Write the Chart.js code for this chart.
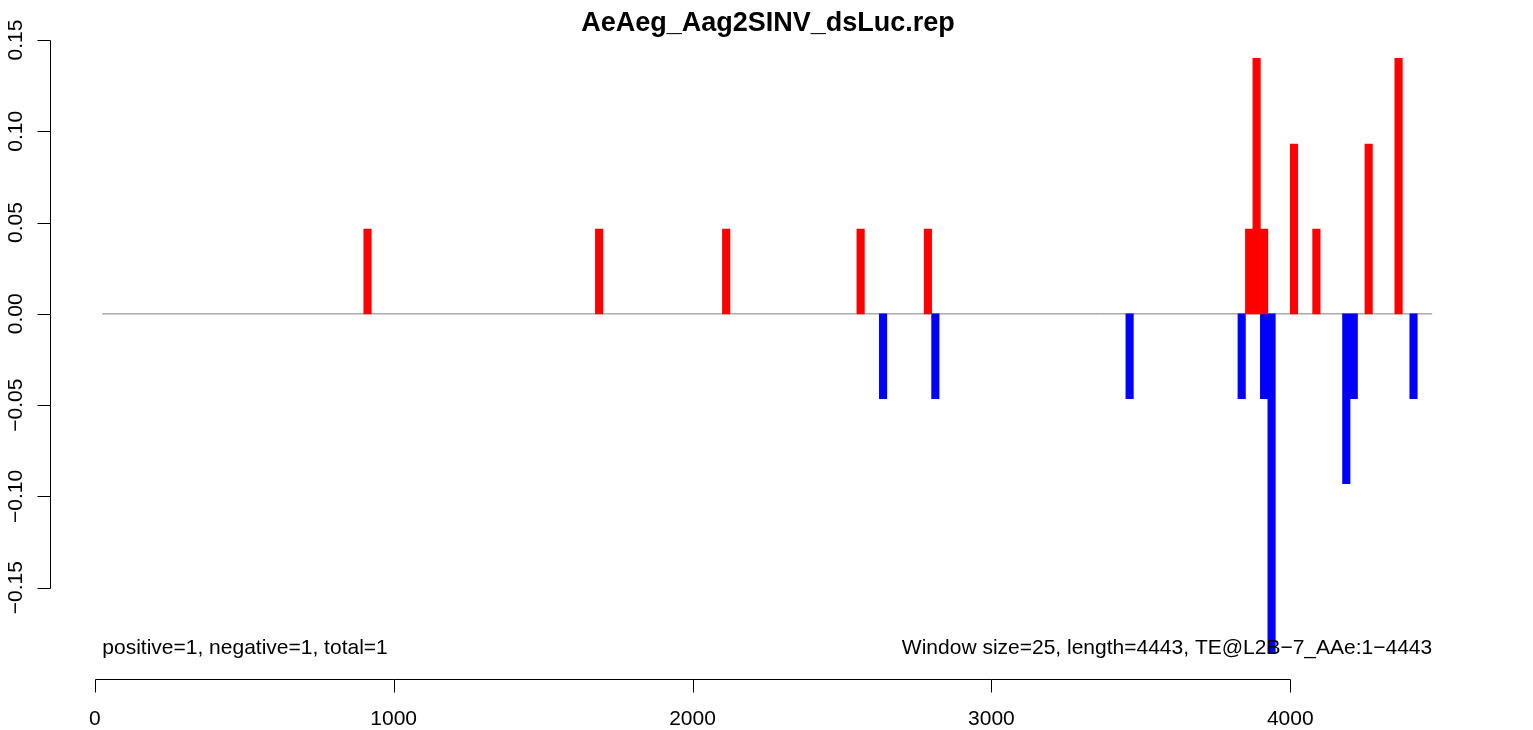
<!DOCTYPE html>
<html>
<head>
<meta charset="utf-8">
<script src="https://cdn.jsdelivr.net/npm/chart.js@4/dist/chart.umd.min.js"></script>
<style>
html, body { margin: 0; padding: 0; background: #fff; }
</style>
</head>
<body>
<canvas id="c" width="1533" height="730"></canvas>
<script>
// data (window of 25 nt, start positions)
const titleText = 'AeAeg_Aag2SINV_dsLuc.rep';
const windowSize = 25;
const posStart = [900, 1675, 2100, 2550, 2775, 3850, 3875, 3900, 4000, 4075, 4250, 4350];
const posValue = [0.0465, 0.0465, 0.0465, 0.0465, 0.0465, 0.0465, 0.14, 0.0465, 0.093, 0.0465, 0.093, 0.14];
const negStart = [2625, 2800, 3450, 3825, 3900, 3925, 4175, 4200, 4400];
const negValue = [-0.0465, -0.0465, -0.0465, -0.0465, -0.0465, -0.186, -0.093, -0.0465, -0.0465];
const baseline = [25, 4475];
const xTicks = [0, 1000, 2000, 3000, 4000];
const yTicks = [0.15, 0.10, 0.05, 0.00, -0.05, -0.10, -0.15];
const noteLeft = 'positive=1, negative=1, total=1';
const noteRight = 'Window size=25, length=4443, TE@L2B\u22127_AAe:1\u22124443';

const FONT = '"Liberation Sans", Arial, Helvetica, sans-serif';

const toPoints = (starts, vals) => starts.map((s, i) => ({ x: s + windowSize / 2, y: vals[i] }));
const fmtY = v => (v < 0 ? '\u2212' : '') + Math.abs(v).toFixed(2);

// R-style axes, title and notes
const rAxes = {
    id: 'rAxes',
    afterDraw(chart) {
        const { ctx, chartArea: a, scales: { x, y } } = chart;
        ctx.save();
        ctx.strokeStyle = '#000';
        ctx.fillStyle = '#000';
        ctx.lineWidth = 1;

        // title
        ctx.font = 'bold 27px ' + FONT;
        ctx.textAlign = 'center';
        ctx.textBaseline = 'alphabetic';
        ctx.fillText(titleText, (a.left + a.right) / 2, 31);

        // y axis
        const ax = Math.round(a.left) + 0.5;
        ctx.beginPath();
        ctx.moveTo(ax, Math.round(y.getPixelForValue(yTicks[0])) + 0.5);
        ctx.lineTo(ax, Math.round(y.getPixelForValue(yTicks[yTicks.length - 1])) + 0.5);
        yTicks.forEach(v => {
            const py = Math.round(y.getPixelForValue(v)) + 0.5;
            ctx.moveTo(ax, py);
            ctx.lineTo(ax - 13, py);
        });
        ctx.stroke();
        ctx.font = '21px ' + FONT;
        yTicks.forEach(v => {
            ctx.save();
            ctx.translate(22, y.getPixelForValue(v));
            ctx.rotate(-Math.PI / 2);
            ctx.textAlign = 'center';
            ctx.textBaseline = 'alphabetic';
            ctx.fillText(fmtY(v), 0, 0);
            ctx.restore();
        });

        // x axis
        const ay = Math.round(a.bottom) + 0.5;
        ctx.beginPath();
        ctx.moveTo(Math.round(x.getPixelForValue(xTicks[0])) + 0.5, ay);
        ctx.lineTo(Math.round(x.getPixelForValue(xTicks[xTicks.length - 1])) + 0.5, ay);
        xTicks.forEach(v => {
            const px = Math.round(x.getPixelForValue(v)) + 0.5;
            ctx.moveTo(px, ay);
            ctx.lineTo(px, ay + 13);
        });
        ctx.stroke();
        ctx.textAlign = 'center';
        ctx.textBaseline = 'middle';
        xTicks.forEach(v => ctx.fillText(String(v), x.getPixelForValue(v), 719));

        // notes under the baseline ends
        ctx.textAlign = 'left';
        ctx.fillText(noteLeft, x.getPixelForValue(baseline[0]), 648);
        ctx.textAlign = 'right';
        ctx.fillText(noteRight, x.getPixelForValue(baseline[1]), 648);
        ctx.restore();
    }
};

new Chart(document.getElementById('c'), {
    type: 'bar',
    data: {
        datasets: [{
            label: 'positive',
            data: toPoints(posStart, posValue),
            backgroundColor: '#ff0000',
            borderWidth: 0,
            grouped: false,
            barPercentage: 1,
            categoryPercentage: 1,
            order: 1
        }, {
            label: 'negative',
            data: toPoints(negStart, negValue),
            backgroundColor: '#0000ff',
            borderWidth: 0,
            grouped: false,
            barPercentage: 1,
            categoryPercentage: 1,
            order: 1
        }, {
            type: 'line',
            label: 'baseline',
            data: baseline.map(v => ({ x: v, y: 0 })),
            borderColor: '#808080',
            borderWidth: 1,
            pointRadius: 0,
            order: 2
        }]
    },
    options: {
        responsive: false,
        animation: false,
        devicePixelRatio: 1,
        layout: { padding: { left: 50, top: 40, right: 47, bottom: 51 } },
        plugins: {
            legend: { display: false },
            tooltip: { enabled: false }
        },
        scales: {
            x: { type: 'linear', min: -150, max: 4655, offset: false, display: false },
            y: { min: -0.2, max: 0.15, display: false }
        }
    },
    plugins: [rAxes]
});
</script>
</body>
</html>
